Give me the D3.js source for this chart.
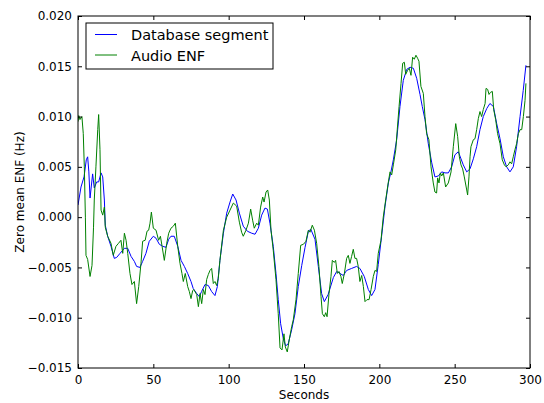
<!DOCTYPE html>
<html>
<head>
    <title>Zero mean ENF</title>
    <meta charset="utf-8">
</head>
<body style="margin:0;background:#fff">
<style>
    text {
        font-family: "DejaVu Sans", sans-serif;
        fill: #000;
    }
    .tick line {
        stroke: #000;
    }
</style>
<script src="https://d3js.org/d3.v7.min.js"></script>
<script>
    const SIZES = {
        WIDTH: 544,
        HEIGHT: 403,
        LEFT: 78,
        RIGHT: 530,
        TOP: 16,
        BOTTOM: 368,
        TICK: 4
    };

    // Axis ticks
    const xTicks = [0, 50, 100, 150, 200, 250, 300];
    const yTicks = [-0.015, -0.010, -0.005, 0.000, 0.005, 0.010, 0.015, 0.020];

    // Database segment (seconds, Hz)
    const dbTime = [0, 2, 4, 5.5, 6.4, 7.2, 8, 9.7, 10.8, 12.4, 13.7, 15.3, 16.4, 17.5, 18.1, 19.7, 21.9, 24.1, 25.7, 27.9,
        30.8, 33, 35.2, 37.4, 38.9, 41.1, 42.9, 45.1, 47.3, 50, 51.8, 54, 56.2, 58.4, 60.2, 61.7, 63.9, 66.2, 68.4, 70.6,
        72.8, 75, 76.5, 78.8, 80.5, 82, 84.3, 86.5, 88.7, 90.9, 92.5, 94.2, 96.5, 98.7, 100.9, 102.7, 104.9, 107.1, 109.7, 112.4,
        115.3, 117.5, 119.7, 121.9, 124.1, 125.7, 127.4, 129.6, 131.4, 132.9, 134.5, 136.3, 137.8, 139.5, 141.8, 144, 146.2, 148.5, 150.7, 152.9,
        154.5, 157.3, 159.5, 161.7, 163.5, 166, 169.5, 171.7, 173.9, 176.1, 178.3, 181.6, 184.9, 187.1, 190, 192.7, 194.9, 197.1, 199.3, 201.5,
        203.8, 206, 207.7, 209.3, 211.5, 213.7, 215.9, 218.2, 220.4, 222.6, 224.8, 227, 228.5, 230.3, 232.5, 234.8, 236.9, 239.2, 241.4, 243.6,
        245.8, 248, 250.2, 252.4, 254.2, 255.7, 258, 260.2, 262.4, 264.6, 266.8, 269, 271.3, 273.4, 275.7, 277.9, 280.1, 282.3, 284.5, 286.7,
        288.9, 291.1, 293.4, 295.5, 297.3];
    const dbValues = [0.0012, 0.0030, 0.0040, 0.0057, 0.0060, 0.0045, 0.0019, 0.0043, 0.0029, 0.0035, 0.0035, 0.0044, 0.0040, 0.0017, -0.0008, -0.0019, -0.0029, -0.0041, -0.0040, -0.0036,
        -0.0031, -0.0031, -0.0039, -0.0044, -0.0049, -0.0050, -0.0044, -0.0036, -0.0024, -0.0019, -0.0021, -0.0027, -0.0029, -0.0030, -0.0022, -0.0019, -0.0019, -0.0029, -0.0043, -0.0049,
        -0.0056, -0.0064, -0.0071, -0.0076, -0.0079, -0.0074, -0.0067, -0.0068, -0.0074, -0.0078, -0.0069, -0.0043, -0.0016, 0.0004, 0.0015, 0.0023, 0.0017, 0.0004, -0.0009, -0.0014,
        -0.0016, -0.0017, -0.0011, 0.0002, 0.0009, 0.0008, -0.0006, -0.0029, -0.0056, -0.0082, -0.0106, -0.0121, -0.0128, -0.0126, -0.0112, -0.0096, -0.0069, -0.0048, -0.0030, -0.0014,
        -0.0012, -0.0022, -0.0049, -0.0076, -0.0084, -0.0077, -0.0060, -0.0054, -0.0056, -0.0058, -0.0053, -0.0051, -0.0049, -0.0051, -0.0059, -0.0072, -0.0078, -0.0072, -0.0047, -0.0019,
        0.0011, 0.0034, 0.0045, 0.0057, 0.0077, 0.0110, 0.0136, 0.0147, 0.0149, 0.0148, 0.0138, 0.0122, 0.0110, 0.0097, 0.0073, 0.0054, 0.0040, 0.0041, 0.0045, 0.0044,
        0.0044, 0.0050, 0.0062, 0.0065, 0.0058, 0.0052, 0.0045, 0.0048, 0.0058, 0.0070, 0.0087, 0.0100, 0.0108, 0.0113, 0.0110, 0.0093, 0.0078, 0.0060, 0.0050, 0.0045,
        0.0050, 0.0070, 0.0100, 0.0126, 0.0151];

    // Audio ENF (seconds, Hz)
    const audioTime = [0, 0.5, 1.3, 2.6, 3.5, 4.2, 4.9, 5.3, 6.4, 8, 9.3, 10.3, 10.8, 11.9, 13.1, 13.7, 14.6, 15.3, 16.4, 17.5,
        18.1, 19.7, 21.9, 23.4, 25.2, 26.9, 28.5, 29.7, 30.8, 31.9, 33, 34.5, 35.8, 37.4, 38.9, 40.3, 41.8, 42.9, 44.6, 45.8,
        46.9, 47.8, 48.7, 50, 51.8, 53.5, 54.7, 55.8, 57.3, 58.9, 60.2, 61.7, 63.3, 64.6, 66.2, 67.7, 69, 69.9, 71.2, 72.8,
        73.9, 75, 76.1, 76.9, 78.8, 79.9, 81, 82.1, 83.2, 84.3, 85.4, 86.5, 87.6, 88.7, 89.8, 90.9, 92, 93.1, 94.2, 96.5,
        98.7, 100.9, 103.1, 105.3, 107.1, 108.6, 109.7, 111.5, 113.1, 114.6, 115.9, 117, 118.6, 119.7, 121.2, 122.6, 123.5, 124.8, 125.9, 127,
        128.1, 129.6, 131.4, 132.9, 134.1, 135.4, 136.7, 137.6, 138.9, 140.2, 141.8, 142.9, 144.7, 146.2, 147.8, 149.6, 151.3, 152.9, 154, 155.5,
        156.9, 158.4, 159.9, 161.3, 162.2, 163.5, 164.4, 165.3, 166.6, 167.9, 168.8, 170.1, 171, 172.1, 173.2, 174.5, 175.4, 176.8, 178.3, 179.4,
        180.5, 181.6, 182.7, 183.8, 184.9, 186, 187.1, 188.3, 189.4, 190.5, 191.8, 193.2, 194.5, 196, 197.1, 198.2, 199.3, 201.1, 202.6, 204.2,
        206, 207.1, 208.2, 209.3, 210.9, 211.9, 213.1, 214.4, 215.5, 216.6, 217.5, 218.8, 219.9, 221, 222.1, 223.2, 224.3, 225.4, 226.3, 227.6,
        229.2, 230.3, 231.4, 232.9, 234.3, 235.8, 236.9, 238, 238.7, 239.6, 240.5, 241.4, 242.5, 244, 245.8, 247.6, 249.1, 250.7, 252, 253.1,
        254.2, 255.3, 256.4, 258, 258.6, 259.5, 260.2, 260.8, 262.4, 263.5, 264.6, 265.7, 266.8, 267.9, 269, 270.2, 270.8, 271.9, 272.8, 273.7,
        275, 275.9, 277.2, 278.5, 280.1, 281.6, 283, 284.1, 285.6, 286.7, 287.8, 288.9, 290, 291.1, 292.3, 293.4, 294.5, 295.6, 296.7, 297.3];
    const audioValues = [0.0095, 0.0101, 0.0097, 0.0100, 0.0083, 0.0050, 0.0000, -0.0038, -0.0042, -0.0059, -0.0048, -0.0010, 0.0017, 0.0050, 0.0087, 0.0102, 0.0067, 0.0007, 0.0002, 0.0010,
        -0.0010, -0.0019, -0.0026, -0.0038, -0.0029, -0.0026, -0.0023, -0.0036, -0.0016, -0.0023, -0.0036, -0.0056, -0.0067, -0.0064, -0.0086, -0.0069, -0.0046, -0.0024, -0.0023, -0.0014,
        -0.0013, -0.0006, 0.0005, -0.0011, -0.0013, -0.0023, -0.0019, -0.0029, -0.0043, -0.0026, -0.0016, -0.0011, -0.0009, -0.0006, -0.0029, -0.0046, -0.0056, -0.0064, -0.0056, -0.0069,
        -0.0074, -0.0081, -0.0073, -0.0072, -0.0077, -0.0089, -0.0076, -0.0086, -0.0072, -0.0077, -0.0062, -0.0057, -0.0053, -0.0051, -0.0066, -0.0064, -0.0068, -0.0061, -0.0043, -0.0013,
        0.0000, 0.0007, 0.0014, 0.0011, -0.0005, -0.0015, -0.0019, -0.0013, -0.0006, 0.0008, -0.0003, -0.0011, -0.0006, -0.0008, 0.0010, 0.0020, 0.0015, 0.0025, 0.0027, 0.0017,
        -0.0013, -0.0033, -0.0062, -0.0096, -0.0130, -0.0132, -0.0116, -0.0129, -0.0134, -0.0122, -0.0109, -0.0102, -0.0082, -0.0056, -0.0028, -0.0027, -0.0024, -0.0013, -0.0015, -0.0008,
        -0.0013, -0.0026, -0.0049, -0.0079, -0.0096, -0.0099, -0.0095, -0.0099, -0.0076, -0.0059, -0.0043, -0.0045, -0.0043, -0.0056, -0.0054, -0.0059, -0.0066, -0.0056, -0.0041, -0.0038,
        -0.0046, -0.0039, -0.0032, -0.0041, -0.0041, -0.0049, -0.0064, -0.0058, -0.0069, -0.0084, -0.0082, -0.0082, -0.0072, -0.0059, -0.0053, -0.0054, -0.0036, -0.0023, 0.0000, 0.0017,
        0.0035, 0.0045, 0.0042, 0.0052, 0.0067, 0.0087, 0.0110, 0.0133, 0.0153, 0.0154, 0.0142, 0.0146, 0.0148, 0.0141, 0.0159, 0.0157, 0.0161, 0.0158, 0.0155, 0.0130,
        0.0123, 0.0100, 0.0083, 0.0077, 0.0050, 0.0034, 0.0025, 0.0024, 0.0039, 0.0034, 0.0044, 0.0041, 0.0044, 0.0030, 0.0034, 0.0045, 0.0070, 0.0093, 0.0080, 0.0060,
        0.0052, 0.0048, 0.0040, 0.0027, 0.0022, 0.0040, 0.0060, 0.0070, 0.0077, 0.0078, 0.0087, 0.0098, 0.0105, 0.0100, 0.0107, 0.0113, 0.0128, 0.0127, 0.0122, 0.0124,
        0.0125, 0.0107, 0.0097, 0.0083, 0.0073, 0.0057, 0.0052, 0.0050, 0.0052, 0.0055, 0.0053, 0.0060, 0.0067, 0.0073, 0.0083, 0.0087, 0.0087, 0.0100, 0.0116, 0.0133];

    const seriesNames = ['Database segment', 'Audio ENF'];
    const seriesColors = ['#0000ff', '#008000'];

    const svg = d3.select('body').append('svg')
        .attr('width', SIZES.WIDTH)
        .attr('height', SIZES.HEIGHT);

    const x = d3.scaleLinear().domain([0, 300]).range([SIZES.LEFT, SIZES.RIGHT]);
    const y = d3.scaleLinear().domain([-0.015, 0.020]).range([SIZES.BOTTOM, SIZES.TOP]);

    // Lines
    const line = d3.line().x(d => x(d[0])).y(d => y(d[1]));
    const series = [
        d3.zip(dbTime, dbValues),
        d3.zip(audioTime, audioValues)
    ];

    svg.append('defs').append('clipPath').attr('id', 'plot')
        .append('rect')
        .attr('x', SIZES.LEFT).attr('y', SIZES.TOP)
        .attr('width', SIZES.RIGHT - SIZES.LEFT)
        .attr('height', SIZES.BOTTOM - SIZES.TOP);

    svg.append('g').attr('clip-path', 'url(#plot)')
        .selectAll('path')
        .data(series)
        .enter()
        .append('path')
        .attr('d', line)
        .attr('fill', 'none')
        .attr('stroke', (d, i) => seriesColors[i])
        .attr('stroke-width', 1)
        .attr('stroke-linejoin', 'round');

    // Axes, ticks pointing inward on all four sides
    const fmtY = d3.format('.3f');
    const addAxis = (axis, transform, labels) => {
        const g = svg.append('g')
            .attr('transform', transform)
            .call(axis);
        g.select('.domain').remove();
        g.selectAll('text').style('font-size', '12px').style('font-family', '"DejaVu Sans", sans-serif');
        if (!labels) g.selectAll('text').remove();
        return g;
    };

    addAxis(d3.axisBottom(x).tickValues(xTicks).tickSize(-SIZES.TICK).tickPadding(7).tickFormat(d3.format('d')),
        `translate(0,${SIZES.BOTTOM})`, true);
    addAxis(d3.axisTop(x).tickValues(xTicks).tickSize(-SIZES.TICK),
        `translate(0,${SIZES.TOP})`, false);
    addAxis(d3.axisLeft(y).tickValues(yTicks).tickSize(-SIZES.TICK).tickPadding(6).tickFormat(fmtY),
        `translate(${SIZES.LEFT},0)`, true);
    addAxis(d3.axisRight(y).tickValues(yTicks).tickSize(-SIZES.TICK),
        `translate(${SIZES.RIGHT},0)`, false);

    // Frame
    svg.append('rect')
        .attr('x', SIZES.LEFT).attr('y', SIZES.TOP)
        .attr('width', SIZES.RIGHT - SIZES.LEFT)
        .attr('height', SIZES.BOTTOM - SIZES.TOP)
        .attr('fill', 'none')
        .attr('stroke', '#000')
        .attr('stroke-width', 1);

    // Axis labels
    svg.append('text')
        .attr('x', (SIZES.LEFT + SIZES.RIGHT) / 2)
        .attr('y', 399)
        .attr('text-anchor', 'middle')
        .style('font-size', '12px')
        .text('Seconds');

    svg.append('text')
        .attr('transform', `translate(24,${(SIZES.TOP + SIZES.BOTTOM) / 2}) rotate(-90)`)
        .attr('text-anchor', 'middle')
        .style('font-size', '12px')
        .text('Zero mean ENF (Hz)');

    // Legend
    const legend = svg.append('g').attr('transform', 'translate(86,23)');
    legend.append('rect')
        .attr('width', 187).attr('height', 46)
        .attr('fill', '#fff')
        .attr('stroke', '#000')
        .attr('stroke-width', 1);

    const entries = legend.selectAll('.entry')
        .data(seriesNames)
        .enter()
        .append('g')
        .attr('class', 'entry')
        .attr('transform', (d, i) => `translate(0,${11.5 + i * 20.5})`);

    entries.append('line')
        .attr('x1', 9).attr('x2', 31)
        .attr('stroke', (d, i) => seriesColors[i])
        .attr('stroke-width', 1);

    entries.append('text')
        .attr('x', 45)
        .attr('y', 5.5)
        .style('font-size', '14.5px')
        .text(d => d);
</script>
</body>
</html>
